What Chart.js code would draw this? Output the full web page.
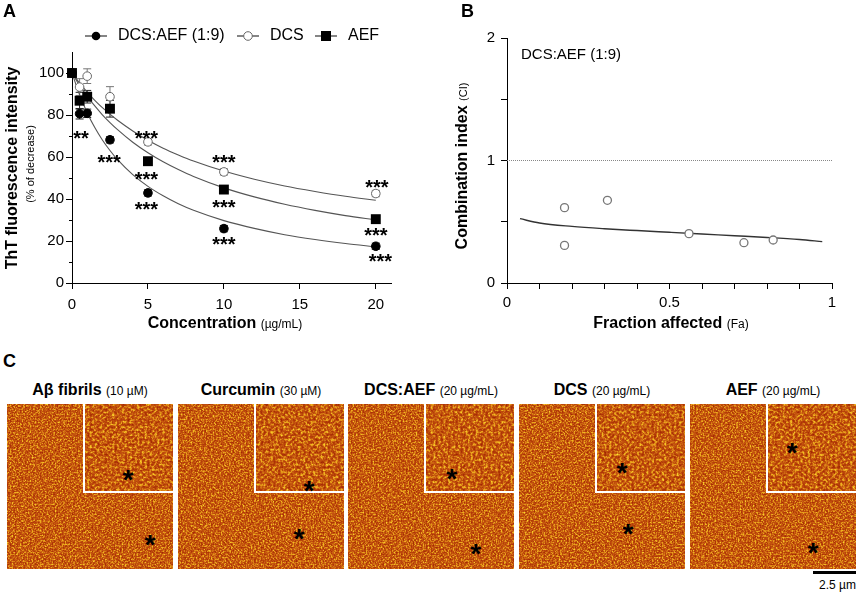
<!DOCTYPE html>
<html>
<head>
<meta charset="utf-8">
<script src="https://cdn.jsdelivr.net/npm/chart.js@4.4.1/dist/chart.umd.min.js"></script>
<style>
  body { margin: 0; background: #fff; font-family: "Liberation Sans", Arial, sans-serif; }
  #page { position: relative; width: 858px; height: 593px; overflow: hidden; }
  canvas { position: absolute; top: 0; }
  .t { position: absolute; white-space: nowrap; color: #000; line-height: 1; }
  .panel { font-weight: bold; font-size: 18px; }
  .b { font-weight: bold; font-size: 16px; }
  .s { font-weight: normal; font-size: 12px; }
  .xs { font-weight: normal; font-size: 11px; }
  .mid { transform: translate(-50%, -50%); }
  .vert { transform: translate(-50%, -50%) rotate(-90deg); }
  .img {
    position: absolute; top: 404px; width: 166px; height: 165px;
    background-color: #c04b0c;
  }
  .inset {
    position: absolute; right: 0; top: 0; width: 90px; height: 89px; box-sizing: border-box;
    border-left: 2px solid #fff; border-bottom: 2px solid #fff;
  }
  .star { position: absolute; font-weight: bold; font-size: 28px; line-height: 28px; transform: translate(-50%, -30%); }
</style>
</head>
<body>
<div id="page">
  <canvas id="chartA" width="430" height="335" style="left:0"></canvas>
  <canvas id="chartB" width="428" height="335" style="left:430px"></canvas>

  <div class="t panel" style="left:3px;top:2px">A</div>
  <div class="t panel" style="left:461px;top:2px">B</div>
  <div class="t panel" style="left:3px;top:352px">C</div>

  <div class="t b vert" style="left:12px;top:168px">ThT fluorescence intensity</div>
  <div class="t xs vert" style="left:30px;top:164px">(% of decrease)</div>
  <div class="t mid" style="left:225px;top:323px"><span class="b">Concentration</span> <span class="s">(µg/mL)</span></div>

  <div class="t vert" style="left:462px;top:166px"><span class="b">Combination index</span> <span class="xs">(CI)</span></div>
  <div class="t mid" style="left:671px;top:323px"><span class="b">Fraction affected</span> <span class="s">(Fa)</span></div>

  <div id="afm"></div>

  <div style="position:absolute;left:813px;top:571px;width:43px;height:3px;background:#000"></div>
  <div class="t s" style="right:2px;top:579px">2.5 µm</div>
</div>

<script>
// Panel A: ThT fluorescence (% of control)
const concentrations = [0, 0.5, 1, 2.5, 5, 10, 20];
const comboValues = [100, 80.6, 80.8, 68.2, 42.9, 25.9, 17.5];
const comboErrors = [0, 2.5, 2, 1.5, 1.5, 1.5, 1.5];
const dcsValues = [100, 93.3, 98.5, 88.7, 67.2, 52.9, 42.6];
const dcsErrors = [0, 4, 3.5, 4.8, 1.5, 1.5, 1.5];
const aefValues = [100, 86.8, 88.7, 83.0, 58.0, 44.5, 30.4];
const aefErrors = [0, 4, 3, 4, 1.5, 1.5, 1.5];

// fitted curves
const fitX = [0, 0.5, 1, 1.5, 2, 2.5, 3, 4, 5, 6, 7, 8, 10, 12, 14, 16, 18, 20];
const comboFit = [100, 89.6, 81.1, 74.0, 68.1, 63.1, 58.7, 51.6, 46.0, 41.5, 37.7, 34.6, 29.7, 26.0, 23.0, 20.7, 18.8, 17.2];
const aefFit = [100, 94.1, 88.9, 84.3, 80.1, 76.4, 73.0, 67.0, 62.0, 57.7, 54.0, 50.7, 45.3, 41.0, 37.5, 34.6, 32.1, 30.0];
const dcsFit = [100, 95.2, 90.9, 87.0, 83.5, 80.4, 77.5, 72.4, 68.0, 64.2, 61.0, 58.1, 53.3, 49.4, 46.2, 43.6, 41.3, 39.4];

// significance marks
const starX = [0.6, 2.44, 4.9, 4.9, 4.9, 10, 10, 10, 20.07, 20, 20.3];
const starY = [71.2, 60.1, 71.5, 51.8, 37.5, 59.8, 38.5, 21, 47.9, 25.1, 12.7];
const starText = ['**', '***', '***', '***', '***', '***', '***', '***', '***', '***', '***'];

const concTicks = [0, 5, 10, 15, 20];
const pctTicks = [0, 20, 40, 60, 80, 100];
const pctMinorTicks = [10, 30, 50, 70, 90];

// Panel B: combination index
const faValues = [0.177, 0.177, 0.309, 0.56, 0.729, 0.819];
const ciValues = [0.615, 0.307, 0.675, 0.403, 0.329, 0.351];
const ciFitFa = [0.04, 0.1, 0.2, 0.3, 0.4, 0.5, 0.6, 0.7, 0.8, 0.9, 0.97];
const ciFitValues = [0.525, 0.49, 0.462, 0.443, 0.428, 0.414, 0.4, 0.386, 0.372, 0.355, 0.338];
const faTicks = [0, 0.1, 0.2, 0.3, 0.4, 0.5, 0.6, 0.7, 0.8, 0.9, 1];
const faLabels = [0, 0.5, 1];
const ciTicks = [0, 0.5, 1, 1.5, 2];
const ciLabels = [0, 1, 2];

// Panel C: AFM images
const afmTitles = ['Aβ fibrils', 'Curcumin', 'DCS:AEF', 'DCS', 'AEF'];
const afmDoses = ['(10 µM)', '(30 µM)', '(20 µg/mL)', '(20 µg/mL)', '(20 µg/mL)'];

const FONT = '"Liberation Sans", Arial, sans-serif';
const toPoints = (xs, ys) => xs.map((x, i) => ({ x: x, y: ys[i] }));

function drawMarker(ctx, style, x, y) {
    ctx.save();
    ctx.lineWidth = 1;
    if (style === 'rect') {
        ctx.fillStyle = '#000';
        ctx.fillRect(x - 5, y - 5, 10, 10);
    } else {
        ctx.beginPath();
        ctx.arc(x, y, 4.3, 0, Math.PI * 2);
        if (style === 'open') {
            ctx.fillStyle = '#fff';
            ctx.strokeStyle = '#666';
            ctx.fill();
            ctx.stroke();
        } else {
            ctx.fillStyle = '#000';
            ctx.fill();
        }
    }
    ctx.restore();
}

// legend across the top of panel A
const legendPlugin = {
    id: 'topLegend',
    afterDraw(chart) {
        const ctx = chart.ctx;
        const items = [
            { label: 'DCS:AEF (1:9)', style: 'filled', x: 85 },
            { label: 'DCS', style: 'open', x: 237 },
            { label: 'AEF', style: 'rect', x: 315 }
        ];
        ctx.save();
        ctx.font = '16px ' + FONT;
        ctx.textBaseline = 'middle';
        ctx.fillStyle = '#000';
        items.forEach(item => {
            ctx.strokeStyle = '#333';
            ctx.lineWidth = 1.2;
            ctx.beginPath();
            ctx.moveTo(item.x, 36);
            ctx.lineTo(item.x + 22, 36);
            ctx.stroke();
            drawMarker(ctx, item.style, item.x + 11, 36);
            ctx.fillText(item.label, item.x + 33, 36);
        });
        ctx.restore();
    }
};

// error bars drawn under the markers
const errorBarPlugin = {
    id: 'errorBars',
    beforeDatasetsDraw(chart) {
        const ctx = chart.ctx;
        const xs = chart.scales.x, ys = chart.scales.y;
        ctx.save();
        chart.data.datasets.forEach(ds => {
            if (!ds.errors) return;
            ctx.strokeStyle = ds.errorColor;
            ctx.lineWidth = 1;
            ds.data.forEach((p, i) => {
                const e = ds.errors[i];
                if (!e) return;
                const px = xs.getPixelForValue(p.x);
                const top = ys.getPixelForValue(p.y + e);
                const bot = ys.getPixelForValue(p.y - e);
                ctx.beginPath();
                ctx.moveTo(px, top); ctx.lineTo(px, bot);
                ctx.moveTo(px - 4, top); ctx.lineTo(px + 4, top);
                ctx.moveTo(px - 4, bot); ctx.lineTo(px + 4, bot);
                ctx.stroke();
            });
        });
        ctx.restore();
    }
};

const starsPlugin = {
    id: 'stars',
    afterDatasetsDraw(chart) {
        const ctx = chart.ctx;
        const xs = chart.scales.x, ys = chart.scales.y;
        ctx.save();
        ctx.font = 'bold 20px ' + FONT;
        ctx.textAlign = 'center';
        ctx.textBaseline = 'alphabetic';
        ctx.fillStyle = '#000';
        starText.forEach((txt, i) => {
            ctx.fillText(txt, xs.getPixelForValue(starX[i]), ys.getPixelForValue(starY[i]) + 12);
        });
        ctx.restore();
    }
};

const minorTickPlugin = {
    id: 'minorTicks',
    afterDraw(chart) {
        const ctx = chart.ctx;
        const ys = chart.scales.y;
        const left = chart.chartArea.left;
        ctx.save();
        ctx.strokeStyle = '#000';
        ctx.lineWidth = 1;
        pctMinorTicks.forEach(v => {
            const py = Math.round(ys.getPixelForValue(v)) + 0.5;
            ctx.beginPath();
            ctx.moveTo(left, py);
            ctx.lineTo(left - 3, py);
            ctx.stroke();
        });
        ctx.restore();
    }
};

const axisStyle = {
    grid: { display: true, drawOnChartArea: false, drawTicks: true, tickLength: 6, color: '#000' },
    border: { display: true, color: '#000', width: 1 }
};

new Chart(document.getElementById('chartA'), {
    type: 'scatter',
    data: {
        datasets: [
            {
                label: 'AEF', data: toPoints(concentrations, aefValues), errors: aefErrors, errorColor: '#222',
                pointStyle: 'rect', pointRadius: 7, backgroundColor: '#000', borderColor: '#000', borderWidth: 0, clip: false
            },
            {
                label: 'DCS:AEF (1:9)', data: toPoints(concentrations, comboValues), errors: comboErrors, errorColor: '#222',
                pointStyle: 'circle', pointRadius: 4.3, backgroundColor: '#000', borderColor: '#000', borderWidth: 1, clip: false
            },
            {
                label: 'DCS', data: toPoints(concentrations, dcsValues), errors: dcsErrors, errorColor: '#777',
                pointStyle: 'circle', pointRadius: 4.3, backgroundColor: '#fff', borderColor: '#666', borderWidth: 1, clip: false
            },
            {
                label: 'fit AEF', data: toPoints(fitX, aefFit), showLine: true, pointRadius: 0,
                borderColor: '#555', borderWidth: 1.1, cubicInterpolationMode: 'monotone'
            },
            {
                label: 'fit DCS:AEF', data: toPoints(fitX, comboFit), showLine: true, pointRadius: 0,
                borderColor: '#555', borderWidth: 1.1, cubicInterpolationMode: 'monotone'
            },
            {
                label: 'fit DCS', data: toPoints(fitX, dcsFit), showLine: true, pointRadius: 0,
                borderColor: '#555', borderWidth: 1.1, cubicInterpolationMode: 'monotone'
            }
        ]
    },
    options: {
        responsive: false,
        animation: false,
        layout: { padding: { top: 52, right: 39, left: 0, bottom: 0 } },
        plugins: { legend: { display: false }, tooltip: { enabled: false } },
        scales: {
            x: {
                type: 'linear', min: 0, max: 21,
                ...axisStyle,
                afterFit: s => { s.height = 52; },
                afterBuildTicks: s => { s.ticks = concTicks.map(v => ({ value: v })); },
                ticks: { color: '#000', padding: 7, font: { family: FONT, size: 15 }, maxRotation: 0 }
            },
            y: {
                type: 'linear', min: 0, max: 110,
                ...axisStyle,
                afterFit: s => { s.width = 72; },
                afterBuildTicks: s => { s.ticks = pctTicks.map(v => ({ value: v })); },
                ticks: { color: '#000', padding: 2, font: { family: FONT, size: 15 } }
            }
        }
    },
    plugins: [legendPlugin, errorBarPlugin, starsPlugin, minorTickPlugin]
});

const insideLabelPlugin = {
    id: 'insideLabel',
    afterDraw(chart) {
        const ctx = chart.ctx;
        ctx.save();
        ctx.font = '15px ' + FONT;
        ctx.textBaseline = 'middle';
        ctx.fillStyle = '#000';
        ctx.fillText('DCS:AEF (1:9)', chart.chartArea.left + 14, 55);
        ctx.restore();
    }
};

new Chart(document.getElementById('chartB'), {
    type: 'scatter',
    data: {
        datasets: [
            {
                label: 'CI', data: toPoints(faValues, ciValues),
                pointStyle: 'circle', pointRadius: 4, backgroundColor: '#fff', borderColor: '#777', borderWidth: 1.3, clip: false
            },
            {
                label: 'CI fit', data: toPoints(ciFitFa, ciFitValues), showLine: true, pointRadius: 0,
                borderColor: '#333', borderWidth: 1.4, cubicInterpolationMode: 'monotone'
            },
            {
                label: 'CI = 1', data: toPoints([0, 1], [1, 1]), showLine: true, pointRadius: 0,
                borderColor: '#888', borderWidth: 1, borderDash: [1, 1]
            }
        ]
    },
    options: {
        responsive: false,
        animation: false,
        layout: { padding: { top: 38, right: 26, left: 0, bottom: 0 } },
        plugins: { legend: { display: false }, tooltip: { enabled: false } },
        scales: {
            x: {
                type: 'linear', min: 0, max: 1,
                ...axisStyle,
                afterFit: s => { s.height = 52; },
                afterBuildTicks: s => { s.ticks = faTicks.map(v => ({ value: v })); },
                ticks: {
                    color: '#000', padding: 5, font: { family: FONT, size: 15 }, maxRotation: 0, autoSkip: false,
                    callback: v => faLabels.includes(v) ? String(v) : ''
                }
            },
            y: {
                type: 'linear', min: 0, max: 2,
                ...axisStyle,
                afterFit: s => { s.width = 77; },
                afterBuildTicks: s => { s.ticks = ciTicks.map(v => ({ value: v })); },
                ticks: {
                    color: '#000', padding: 6, font: { family: FONT, size: 15 }, autoSkip: false,
                    callback: v => ciLabels.includes(v) ? String(v) : ''
                }
            }
        }
    },
    plugins: [insideLabelPlugin]
});

// Panel C: image tiles with titles and asterisks
const afm = document.getElementById('afm');
const tileLeft = [7, 178, 348, 519, 690];
const insetStar = [[121, 70], [131, 81], [104, 69], [103, 63], [102, 43]];
const mainStar = [[143, 135], [121, 129], [128, 144], [109, 124], [123, 143]];

// noise texture standing in for the AFM height maps
function afmTexture(seed, freq) {
    const svg = "<svg xmlns='http://www.w3.org/2000/svg' width='166' height='165'>" +
        "<filter id='n' color-interpolation-filters='sRGB'>" +
        "<feTurbulence type='fractalNoise' baseFrequency='" + freq + "' numOctaves='3' seed='" + seed + "'/>" +
        "<feColorMatrix type='matrix' values='1 0 0 0 0  1 0 0 0 0  1 0 0 0 0  0 0 0 0 1'/>" +
        "<feComponentTransfer>" +
        "<feFuncR type='table' tableValues='0.6 0.64 0.7 0.77 0.9 0.97 1'/>" +
        "<feFuncG type='table' tableValues='0.12 0.16 0.23 0.33 0.6 0.8 0.9'/>" +
        "<feFuncB type='table' tableValues='0 0.01 0.03 0.06 0.1 0.16 0.25'/>" +
        "</feComponentTransfer></filter>" +
        "<rect width='100%' height='100%' filter='url(#n)'/></svg>";
    return 'url("data:image/svg+xml;utf8,' + encodeURIComponent(svg) + '")';
}

afmTitles.forEach((title, i) => {
    const cap = document.createElement('div');
    cap.className = 't mid';
    cap.style.left = (tileLeft[i] + 83) + 'px';
    cap.style.top = '390px';
    cap.innerHTML = '<span class="b">' + title + '</span> <span class="s">' + afmDoses[i] + '</span>';
    afm.appendChild(cap);

    const tile = document.createElement('div');
    tile.className = 'img';
    tile.style.left = tileLeft[i] + 'px';
    tile.style.backgroundImage = afmTexture(i + 2, 0.6);
    const inset = document.createElement('div');
    inset.className = 'inset';
    inset.style.backgroundImage = afmTexture(i + 11, 0.4);
    tile.appendChild(inset);
    [insetStar[i], mainStar[i]].forEach(p => {
        const s = document.createElement('div');
        s.className = 'star';
        s.textContent = '*';
        s.style.left = p[0] + 'px';
        s.style.top = p[1] + 'px';
        tile.appendChild(s);
    });
    afm.appendChild(tile);
});
</script>
</body>
</html>
